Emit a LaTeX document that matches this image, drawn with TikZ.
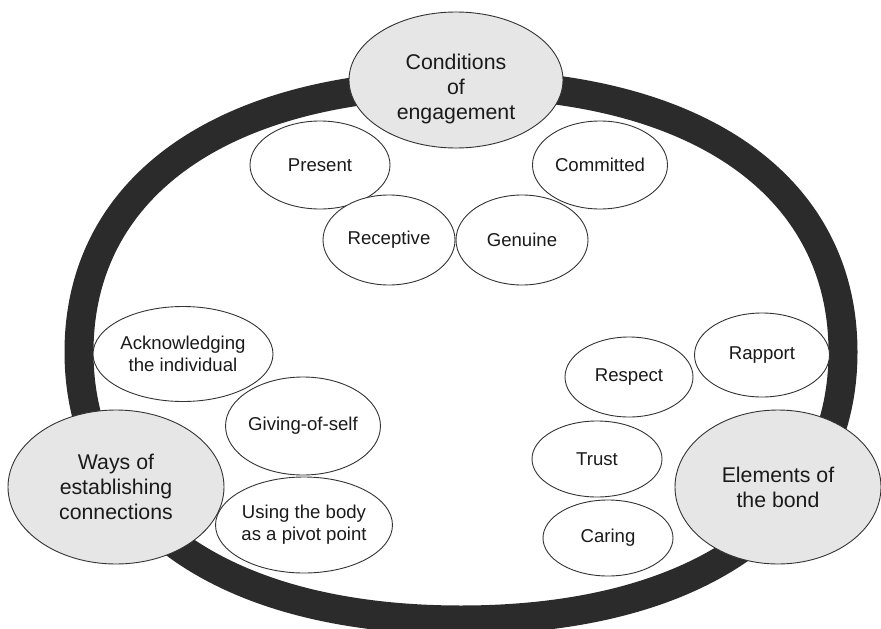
\documentclass[tikz,border=0pt]{standalone}
\usepackage{fontspec}
\setmainfont{Liberation Sans}
\usetikzlibrary{shapes.geometric}
\definecolor{ringcol}{HTML}{2B2B2B}
\definecolor{bigfill}{HTML}{E6E6E6}
\definecolor{edgecol}{HTML}{333333}
\definecolor{txtcol}{HTML}{1A1A1A}
\tikzset{
  small/.style={ellipse, draw=edgecol, line width=0.9pt, fill=white, inner sep=0pt,
    align=center, text=txtcol, font=\fontsize{18.6}{22}\selectfont},
  big/.style={ellipse, draw=edgecol, line width=0.9pt, fill=bigfill, inner sep=0pt,
    align=center, text=txtcol, font=\fontsize{21.3}{25}\selectfont},
  bigtext/.style={align=center, text=txtcol, inner sep=0pt, font=\fontsize{21.3}{25}\selectfont},
  ring/.style={draw=ringcol, line width=29pt}
}
\begin{document}
\begin{tikzpicture}[x=1pt,y=-1pt]
\useasboundingbox (0,0) rectangle (881,629);
\begin{scope}
\clip (0,0) rectangle (881,629);
% outer ring
\draw[ring] (843,352) .. controls (843,518) and (698,620) .. (461,620)
  .. controls (224,620) and (79,518) .. (79,352)
  .. controls (79,186) and (224,84) .. (461,84)
  .. controls (698,84) and (843,186) .. cycle;
\end{scope}
% conditions of engagement
\node[big, minimum width=214pt, minimum height=136pt] (cond) at (456,80) {};
\node[bigtext] (condt) at (456,89) {Conditions\\of\\engagement};
\node[small, minimum width=140pt, minimum height=88pt] (present) at (320,165) {Present};
\node[small, minimum width=135pt, minimum height=88pt] (committed) at (600,165) {Committed};
\node[small, minimum width=132pt, minimum height=90pt] (receptive) at (389,240) {Receptive};
\node[small, minimum width=132pt, minimum height=90pt] (genuine) at (522,240) {Genuine};
% ways of establishing connections
\node[small, minimum width=180pt, minimum height=95pt] (ack) at (183,354) {Acknowledging\\the individual};
\node[small, minimum width=150pt, minimum height=98pt] (giving) at (303,426) {Giving-of-self};
\node[small, minimum width=148pt, minimum height=96pt] (using) at (304,525) {Using the body\\as a pivot point};
\node[big, minimum width=216pt, minimum height=154pt] (ways) at (116,487) {Ways of\\establishing\\connections};
% elements of the bond
\node[small, minimum width=135pt, minimum height=84pt] (rapport) at (762,355) {Rapport};
\node[small, minimum width=128pt, minimum height=80pt] (respect) at (629,377) {Respect};
\node[small, minimum width=130pt, minimum height=76pt] (trust) at (597,459) {Trust};
\node[small, minimum width=130pt, minimum height=76pt] (caring) at (608,538) {Caring};
\node[big, minimum width=206pt, minimum height=154pt] (elem) at (778,487) {Elements of\\the bond};
\end{tikzpicture}
\end{document}
